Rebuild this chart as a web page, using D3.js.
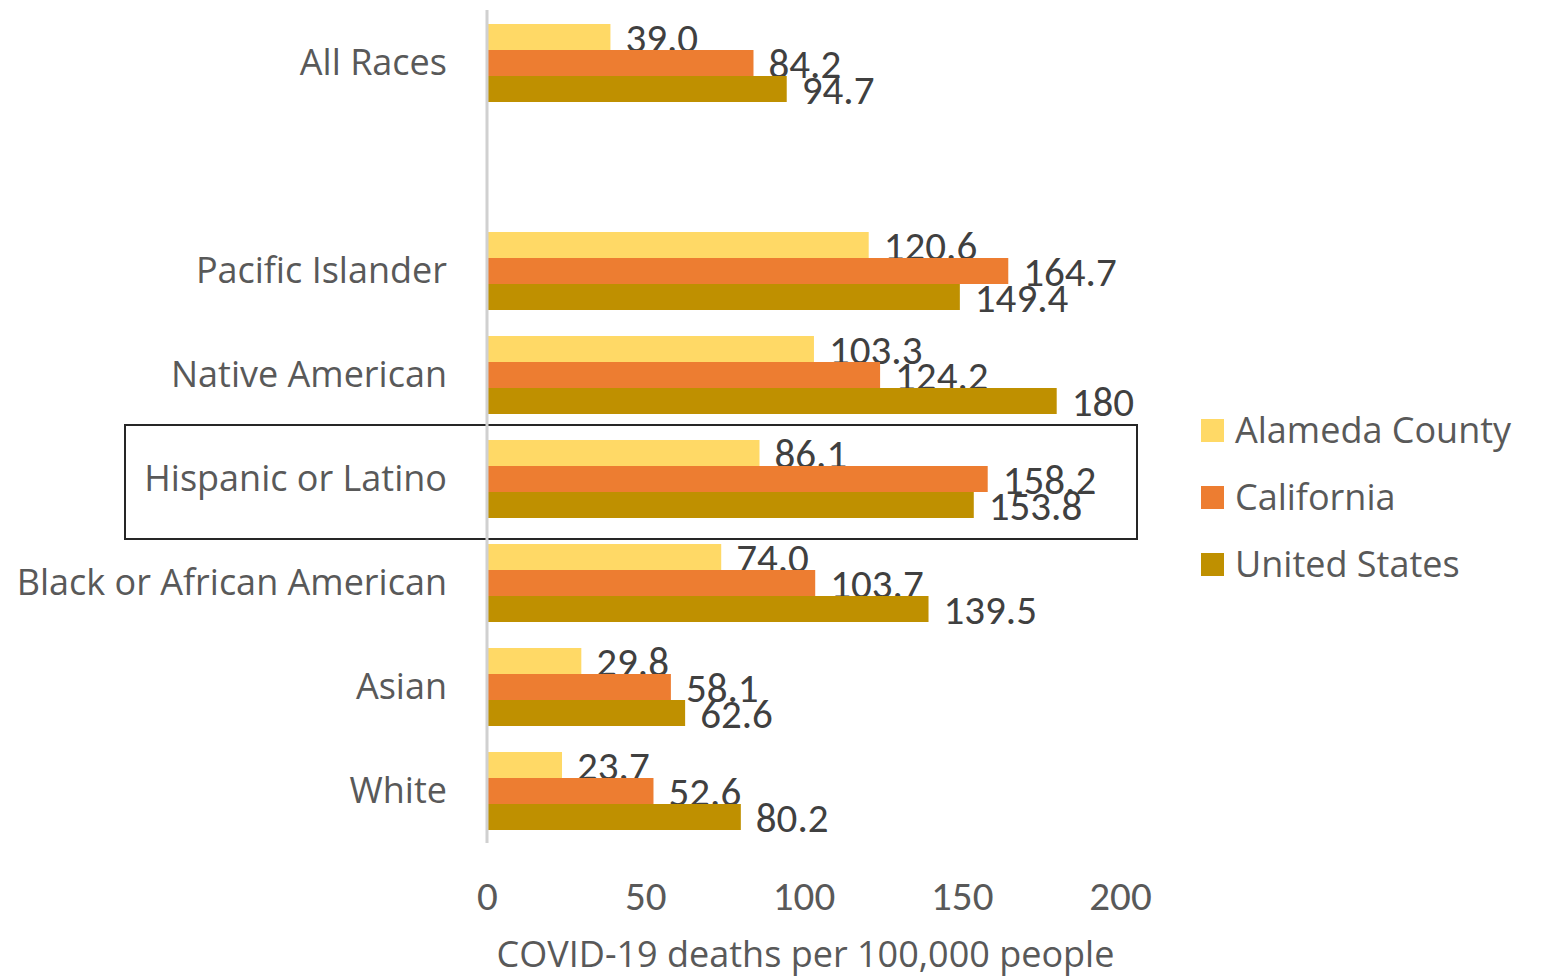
<!DOCTYPE html>
<html><head><meta charset="utf-8">
<script src="https://cdn.jsdelivr.net/npm/d3@7"></script>
<style>
html,body{margin:0;padding:0;background:#fff;}
svg{display:block;}
</style>
</head><body>
<svg id="chart" width="1541" height="977"></svg>
<script>
// ---- data ----
const categories = ["All Races", "", "Pacific Islander", "Native American", "Hispanic or Latino", "Black or African American", "Asian", "White"];
const seriesNames = ["Alameda County", "California", "United States"];
const alameda    = ["39.0", null, "120.6", "103.3", "86.1", "74.0", "29.8", "23.7"];
const california = ["84.2", null, "164.7", "124.2", "158.2", "103.7", "58.1", "52.6"];
const unitedStates = ["94.7", null, "149.4", "180", "153.8", "139.5", "62.6", "80.2"];
const xTicks = [0, 50, 100, 150, 200];
const xTitle = "COVID-19 deaths per 100,000 people";
const highlighted = "Hispanic or Latino";

// ---- style ----
const colors = ["#FFD966", "#ED7D31", "#BF9000"];
const labelFont = "'Open Sans', 'Noto Sans', sans-serif";
const numFont = "Carlito, 'Liberation Sans Narrow', 'Liberation Sans', sans-serif";
const textColor = "#595959";
const numColor = "#404040";

const seriesValues = [alameda, california, unitedStates];
const svg = d3.select("#chart");

const x = d3.scaleLinear().domain([0, 200]).range([487, 1120]);
const y = d3.scaleBand().domain(categories.map((c, i) => i)).range([11, 843]).paddingInner(0.25).paddingOuter(0.125);
const y1 = d3.scaleBand().domain(seriesNames).range([0, y.bandwidth()]);

// highlight box
const hi = categories.indexOf(highlighted);
svg.append("rect")
  .attr("x", 125).attr("y", y(hi) - y.step() * 0.125 - 2)
  .attr("width", 1137 - 125).attr("height", y.step() + 10)
  .attr("fill", "none").attr("stroke", "#262626").attr("stroke-width", 2);

// bars + labels
seriesNames.forEach((s, si) => {
  const data = categories.map((c, i) => ({i, v: seriesValues[si][i]})).filter(d => d.v !== null);
  svg.append("g").selectAll("rect").data(data).join("rect")
    .attr("x", x(0))
    .attr("y", d => y(d.i) + y1(s))
    .attr("width", d => x(+d.v) - x(0))
    .attr("height", y1.bandwidth())
    .attr("fill", colors[si]);
  svg.append("g").selectAll("text").data(data).join("text")
    .attr("x", d => x(+d.v) + 15)
    .attr("y", d => y(d.i) + y1(s) + y1.bandwidth() / 2)
    .attr("dy", "0.36em")
    .attr("font-family", numFont)
    .attr("font-size", 41)
    .attr("fill", numColor)
    .text(d => d.v);
});

// vertical axis line
svg.append("line")
  .attr("x1", x(0)).attr("x2", x(0)).attr("y1", 10).attr("y2", 843)
  .attr("stroke", "#d0d0d0").attr("stroke-width", 3);

// category labels
const yAxis = d3.axisLeft(y).tickSize(0).tickPadding(0).tickFormat(i => categories[i]);
const yg = svg.append("g").attr("transform", `translate(447,0)`).call(yAxis);
yg.select(".domain").remove();
yg.selectAll("text").attr("font-family", labelFont).attr("font-size", 36).attr("fill", textColor);

// x tick labels
const xAxis = d3.axisBottom(x).tickValues(xTicks).tickSize(0).tickPadding(0);
const xg = svg.append("g").attr("transform", `translate(0,881)`).call(xAxis);
xg.select(".domain").remove();
xg.selectAll("text").attr("font-family", numFont).attr("font-size", 41).attr("fill", textColor);

// x title
svg.append("text")
  .attr("x", (x(0) + x(200)) / 2 + 2).attr("y", 967)
  .attr("text-anchor", "middle")
  .attr("font-family", labelFont).attr("font-size", 36).attr("fill", textColor)
  .text(xTitle);

// legend
const lg = svg.append("g").selectAll("g").data(seriesNames).join("g")
  .attr("transform", (d, i) => `translate(1201,${430 + i * 67})`);
lg.append("rect").attr("x", 0).attr("y", -11).attr("width", 23).attr("height", 23)
  .attr("fill", (d, i) => colors[i]);
lg.append("text").attr("x", 34).attr("y", 0).attr("dy", "0.36em")
  .attr("font-family", labelFont).attr("font-size", 36).attr("fill", textColor)
  .text(d => d);
</script>
</body></html>
